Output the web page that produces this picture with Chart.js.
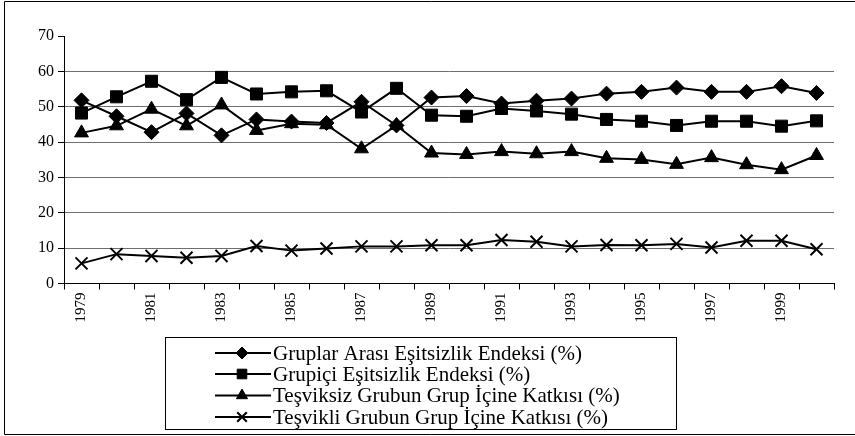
<!DOCTYPE html>
<html>
<head>
<meta charset="utf-8">
<script src="https://cdn.jsdelivr.net/npm/chart.js"></script>
<style>
  html, body { margin: 0; padding: 0; background: #fff; }
  #wrap { width: 855px; height: 436px; }
</style>
</head>
<body>
<div id="wrap"><canvas id="grafico" width="855" height="436"></canvas></div>
<script>
// anos
const anos = ["1979","1980","1981","1982","1983","1984","1985","1986","1987","1988","1989",
              "1990","1991","1992","1993","1994","1995","1996","1997","1998","1999","2000"];

const gruplarArasi = [51.8, 47.3, 42.8, 48.1, 41.9, 46.4, 45.8, 45.4, 51.4, 44.7, 52.6,
                      53.0, 50.9, 51.7, 52.3, 53.7, 54.2, 55.4, 54.2, 54.2, 55.8, 53.9];
const grupici = [48.2, 52.8, 57.2, 52.0, 58.3, 53.6, 54.2, 54.5, 48.5, 55.2, 47.6,
                 47.3, 49.5, 48.8, 47.9, 46.4, 45.9, 44.7, 45.9, 45.9, 44.5, 46.0];
const tesviksiz = [42.6, 44.6, 49.3, 44.6, 50.5, 43.3, 45.2, 44.9, 38.1, 44.7, 36.9,
                   36.5, 37.3, 36.7, 37.3, 35.4, 35.1, 33.7, 35.6, 33.6, 32.2, 36.2];
const tesvikli = [5.7, 8.3, 7.8, 7.3, 7.8, 10.6, 9.3, 9.9, 10.5, 10.5, 10.8,
                  10.8, 12.3, 11.8, 10.5, 10.9, 10.8, 11.2, 10.2, 12.1, 12.1, 9.7];

const rotulos = ["Gruplar Arası Eşitsizlik Endeksi (%)", "Grupiçi Eşitsizlik Endeksi (%)",
                 "Teşviksiz Grubun Grup İçine Katkısı (%)", "Teşvikli Grubun Grup İçine Katkısı (%)"];
const yTicks = [0, 10, 20, 30, 40, 50, 60, 70];

const FONTE = "'Liberation Serif', 'Times New Roman', serif";

function serie(label, data, estilo, raio, bw) {
  return {
    label: label,
    data: data,
    borderColor: "#000",
    backgroundColor: "#000",
    borderWidth: 2,
    tension: 0,
    pointStyle: estilo,
    pointRadius: raio,
    pointHoverRadius: raio,
    pointBackgroundColor: "#000",
    pointBorderColor: "#000",
    pointBorderWidth: bw
  };
}

// moldura externa + legenda desenhada a mao
const molduraLegenda = {
  id: "molduraLegenda",
  afterDraw(chart) {
    const ctx = chart.ctx;
    ctx.save();
    ctx.strokeStyle = "#000";
    ctx.lineWidth = 1;
    ctx.beginPath();
    ctx.moveTo(860, 1.5);
    ctx.lineTo(4.5, 1.5);
    ctx.lineTo(4.5, 434.5);
    ctx.lineTo(860, 434.5);
    ctx.stroke();

    // caixa da legenda
    ctx.strokeRect(165.5, 337.5, 511, 92);
    const linhas = [353, 374, 395.5, 417];
    chart.data.datasets.forEach((ds, i) => {
      const y = linhas[i];
      ctx.strokeStyle = "#000";
      ctx.lineWidth = 2;
      ctx.beginPath();
      ctx.moveTo(215, y);
      ctx.lineTo(271, y);
      ctx.stroke();
      ctx.fillStyle = "#000";
      ctx.lineWidth = ds.pointBorderWidth;
      Chart.helpers.drawPoint(ctx, {
        pointStyle: ds.pointStyle,
        radius: ds.pointRadius * 0.8,
        rotation: 0,
        borderWidth: ds.pointBorderWidth
      }, 242, y);
      ctx.fillStyle = "#000";
      ctx.font = "21px " + FONTE;
      ctx.textBaseline = "middle";
      ctx.textAlign = "left";
      ctx.fillText(ds.label, 273, y + 1);
    });
    ctx.restore();
  }
};

const ctx = document.getElementById("grafico").getContext("2d");
const myChart = new Chart(ctx, {
  type: "line",
  data: {
    labels: anos,
    datasets: [
      serie(rotulos[0], gruplarArasi, "rectRot", 7.5, 1),
      serie(rotulos[1], grupici, "rect", 8.5, 1),
      serie(rotulos[2], tesviksiz, "triangle", 8, 1),
      serie(rotulos[3], tesvikli, "crossRot", 8.5, 2)
    ]
  },
  options: {
    responsive: false,
    animation: false,
    layout: { padding: { left: 34, right: 21, top: 36, bottom: 110.5 } },
    plugins: {
      legend: { display: false },
      tooltip: { enabled: false },
      title: { display: false }
    },
    scales: {
      x: {
        offset: true,
        grid: { offset: true, drawOnChartArea: false, tickLength: 6, tickColor: "#000" },
        border: { color: "#000", width: 1 },
        ticks: {
          autoSkip: false,
          minRotation: 90,
          maxRotation: 90,
          padding: 3,
          color: "#000",
          font: { family: FONTE, size: 15 },
          callback: function (v, i) { return i % 2 === 0 ? anos[i] : ""; }
        }
      },
      y: {
        min: 0,
        max: 70,
        afterBuildTicks: (axis) => { axis.ticks = yTicks.map(v => ({ value: v })); },
        grid: {
          tickLength: 6,
          tickColor: "#000",
          color: (c) => (c.tick && (c.tick.value === 0 || c.tick.value === 70)) ? "rgba(0,0,0,0)" : "#6e6e6e"
        },
        border: { color: "#000", width: 1 },
        ticks: {
          padding: 4,
          color: "#000",
          font: { family: FONTE, size: 16 }
        }
      }
    }
  },
  plugins: [molduraLegenda]
});
</script>
</body>
</html>
